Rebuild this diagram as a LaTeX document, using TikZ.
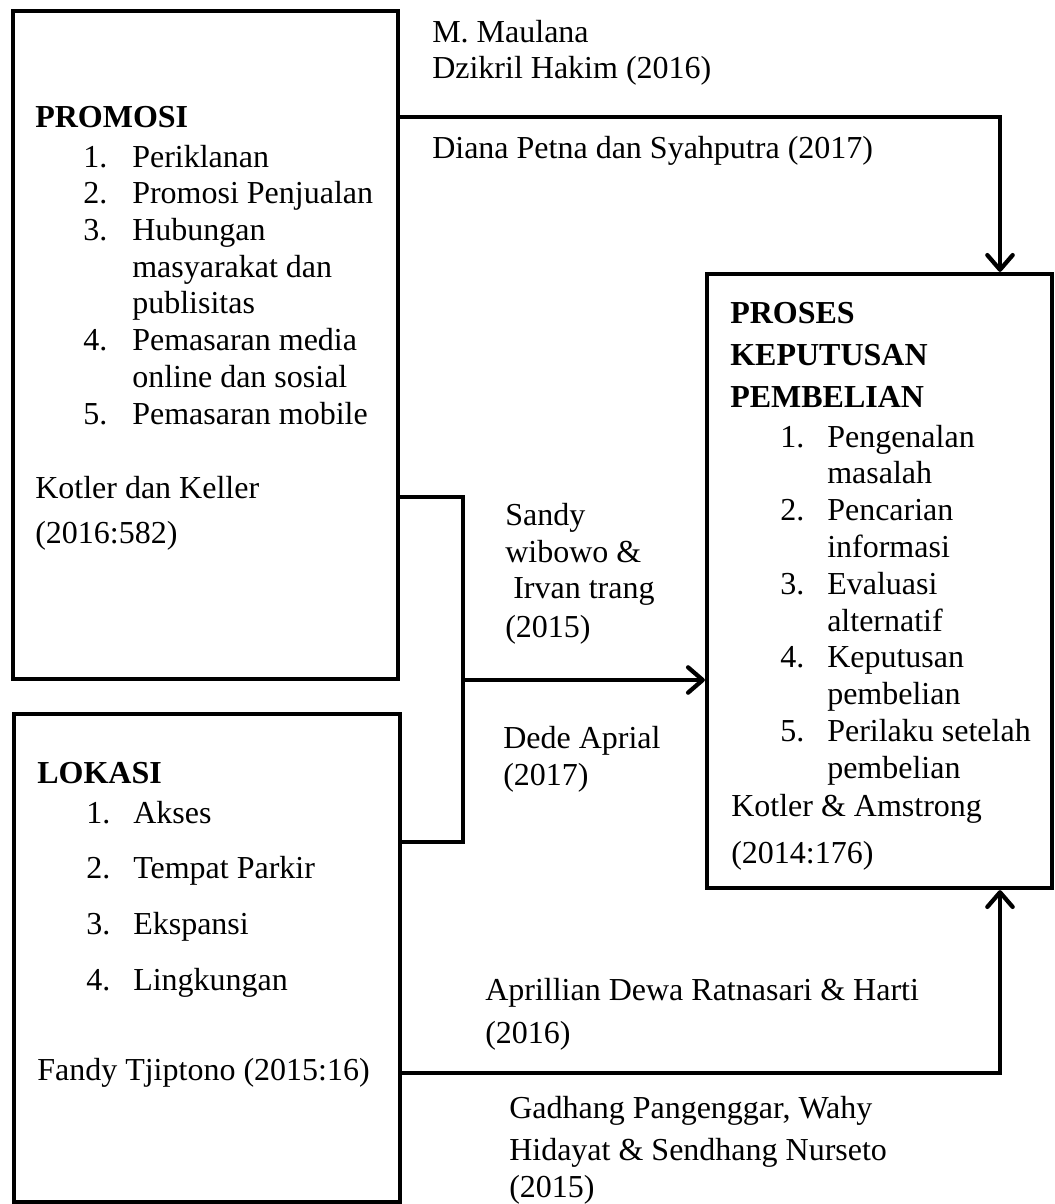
\documentclass[tikz,border=0pt]{standalone}
\usepackage{fontspec}
\setmainfont{Liberation Serif}
\usetikzlibrary{arrows.meta,fit}
\begin{document}
\begin{tikzpicture}[x=0.75pt,y=-0.75pt,
  txt/.style={anchor=base west,inner sep=0pt,font=\fontsize{24}{27.5}\selectfont},
  hd/.style={txt,font=\fontsize{24}{27.5}\selectfont\bfseries},
  boxstyle/.style={draw=black,line width=3.2pt,inner sep=0pt,rectangle},
  conn/.style={draw=black,line width=3.2pt},
  tip/.style={-{Straight Barb[length=11pt,width=19pt,line width=3.2pt,line cap=round,line join=round]}}
]
\useasboundingbox (0,0) rectangle (1055,1204);
\fill[white] (0,0) rectangle (1055,1204);
% box corners
\coordinate (pa) at (13,11);  \coordinate (pb) at (398,679);
\coordinate (la) at (14,714); \coordinate (lb) at (400,1202);
\coordinate (ka) at (707,274); \coordinate (kb) at (1052,888);
\node[boxstyle,fit=(pa)(pb)] (promosi) {};
\node[boxstyle,fit=(la)(lb)] (lokasi) {};
\node[boxstyle,fit=(ka)(kb)] (proses) {};
% connector points
\coordinate (c1) at (1000,117);
\coordinate (c2a) at (463,497);
\coordinate (c2b) at (463,842);
\coordinate (c2m) at (463,680);
\coordinate (c3) at (1000,1073);
% top connector
\draw[conn,tip] (promosi.east |- c1) -- (c1) -- (proses.north -| c1);
% middle bracket
\draw[conn] (promosi.east |- c2a) -- (c2a) -- (c2b) -- (lokasi.east |- c2b);
\draw[conn,tip] (c2m) -- (proses.west |- c2m);
% bottom connector
\draw[conn,tip] (lokasi.east |- c3) -- (c3) -- (proses.south -| c3);

% PROMOSI text
\node[hd] (ph) at (35,127) {PROMOSI};
\node[txt] (pn1) at (83,167) {1.};   \node[txt] (pt1) at (132,167) {Periklanan};
\node[txt] (pn2) at (83,203.7) {2.}; \node[txt] (pt2) at (132,203.7) {Promosi Penjualan};
\node[txt] (pn3) at (83,240.4) {3.}; \node[txt] (pt3) at (132,240.4) {Hubungan};
\node[txt] (pt3b) at (132,277.1) {masyarakat dan};
\node[txt] (pt3c) at (132,313.8) {publisitas};
\node[txt] (pn4) at (83,350.5) {4.}; \node[txt] (pt4) at (132,350.5) {Pemasaran media};
\node[txt] (pt4b) at (132,387.2) {online dan sosial};
\node[txt] (pn5) at (83,424) {5.};   \node[txt] (pt5) at (132,424) {Pemasaran mobile};
\node[txt] (pr1) at (35,498) {Kotler dan Keller};
\node[txt] (pr2) at (35,543) {(2016:582)};

% LOKASI text
\node[hd] (lh) at (37,783) {LOKASI};
\node[txt] (ln1) at (86,823) {1.};   \node[txt] (lt1) at (133,823) {Akses};
\node[txt] (ln2) at (86,878.7) {2.}; \node[txt] (lt2) at (133,878.7) {Tempat Parkir};
\node[txt] (ln3) at (86,934.3) {3.}; \node[txt] (lt3) at (133,934.3) {Ekspansi};
\node[txt] (ln4) at (86,990) {4.};   \node[txt] (lt4) at (133,990) {Lingkungan};
\node[txt] (lr) at (37,1080) {Fandy Tjiptono (2015:16)};

% PROSES text
\node[hd] (kh1) at (730,323) {PROSES};
\node[hd] (kh2) at (730,365) {KEPUTUSAN};
\node[hd] (kh3) at (730,407) {PEMBELIAN};
\node[txt] (kn1) at (780,447) {1.};   \node[txt] (kt1) at (827,447) {Pengenalan};
\node[txt] (kt1b) at (827,483.8) {masalah};
\node[txt] (kn2) at (780,520.6) {2.}; \node[txt] (kt2) at (827,520.6) {Pencarian};
\node[txt] (kt2b) at (827,557.4) {informasi};
\node[txt] (kn3) at (780,594.2) {3.}; \node[txt] (kt3) at (827,594.2) {Evaluasi};
\node[txt] (kt3b) at (827,631) {alternatif};
\node[txt] (kn4) at (780,667.8) {4.}; \node[txt] (kt4) at (827,667.8) {Keputusan};
\node[txt] (kt4b) at (827,704.6) {pembelian};
\node[txt] (kn5) at (780,741.4) {5.}; \node[txt] (kt5) at (827,741.4) {Perilaku setelah};
\node[txt] (kt5b) at (827,778.2) {pembelian};
\node[txt] (kr1) at (731,816) {Kotler \& Amstrong};
\node[txt] (kr2) at (731,863) {(2014:176)};

% connector labels
\node[txt] (a1) at (432,42) {M. Maulana};
\node[txt] (a2) at (432,78) {Dzikril Hakim (2016)};
\node[txt] (b1) at (432,158) {Diana Petna dan Syahputra (2017)};
\node[txt] (s1) at (505,525) {Sandy};
\node[txt] (s2) at (505,562) {wibowo \&};
\node[txt] (s3) at (513,598) {Irvan trang};
\node[txt] (s4) at (505,637) {(2015)};
\node[txt] (d1) at (503,748) {Dede Aprial};
\node[txt] (d2) at (503,785) {(2017)};
\node[txt] (r1) at (485,1000) {Aprillian Dewa Ratnasari \& Harti};
\node[txt] (r2) at (485,1043) {(2016)};
\node[txt] (g1) at (509,1118) {Gadhang Pangenggar, Wahy};
\node[txt] (g2) at (509,1160) {Hidayat \& Sendhang Nurseto};
\node[txt] (g3) at (509,1197) {(2015)};
\end{tikzpicture}
\end{document}
